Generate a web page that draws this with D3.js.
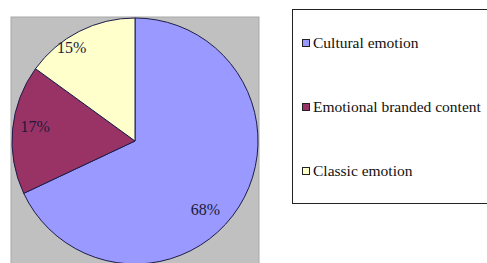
<!DOCTYPE html>
<html>
<head>
<meta charset="utf-8">
<script src="https://cdn.jsdelivr.net/npm/d3@7"></script>
<style>
  body { margin: 0; background: #fff; }
</style>
</head>
<body>
<script>
// chart data
const categories = ["Cultural emotion", "Emotional branded content", "Classic emotion"];
const values = [68, 17, 15];
const labels = ["68%", "17%", "15%"];
const colors = ["#9999ff", "#993366", "#ffffcc"];

const WIDTH = 487, HEIGHT = 263;
const FONT = "'Liberation Serif', 'DejaVu Serif', serif";

let svg = d3.select("body").append("svg")
    .attr("width", WIDTH)
    .attr("height", HEIGHT);

// grey plot area
svg.append("rect")
    .attr("x", 11).attr("y", 17)
    .attr("width", 248).attr("height", 260)
    .attr("fill", "#c0c0c0")
    .attr("stroke", "#a8a8a8");

const cx = 135, cy = 141, r = 123;

let pie = d3.pie().sort(null).value(d => d)(values);
let arc = d3.arc().innerRadius(0).outerRadius(r);

let g = svg.append("g").attr("transform", "translate(" + cx + "," + cy + ")");

g.selectAll("path")
    .data(pie)
    .enter().append("path")
    .attr("d", arc)
    .attr("fill", (d, i) => colors[i])
    .attr("stroke", "#1c1c4a")
    .attr("stroke-width", 1);

// labels: radius fraction and angle shift (degrees) from slice middle
const labelR = [0.80, 0.82, 0.92];
const labelShift = [12, 3, -7];
g.selectAll("text.lbl")
    .data(pie)
    .enter().append("text")
    .attr("class", "lbl")
    .attr("transform", (d, i) => {
        let a = (d.startAngle + d.endAngle) / 2 + labelShift[i] * Math.PI / 180;
        let rr = r * labelR[i];
        return "translate(" + (rr * Math.sin(a)) + "," + (-rr * Math.cos(a)) + ")";
    })
    .attr("text-anchor", "middle")
    .attr("dy", "0.35em")
    .style("font-family", FONT)
    .attr("font-size", 16)
    .attr("fill", "#1a1a3a")
    .text((d, i) => labels[i]);

// legend
svg.append("rect")
    .attr("x", 292.5).attr("y", 9.5)
    .attr("width", 220).attr("height", 194)
    .attr("fill", "#fff")
    .attr("stroke", "#222")
    .attr("stroke-width", 1);

let legendY = d3.scalePoint().domain(categories).range([43, 171]);

let items = svg.selectAll("g.leg")
    .data(categories)
    .enter().append("g")
    .attr("class", "leg")
    .attr("transform", d => "translate(302," + legendY(d) + ")");

items.append("rect")
    .attr("x", 0.5).attr("y", -3.5)
    .attr("width", 7).attr("height", 7)
    .attr("fill", (d, i) => colors[i])
    .attr("stroke", "#222");

items.append("text")
    .attr("x", 11)
    .attr("dy", "0.35em")
    .style("font-family", FONT)
    .attr("font-size", 15.5)
    .attr("fill", "#111")
    .text(d => d);
</script>
</body>
</html>
